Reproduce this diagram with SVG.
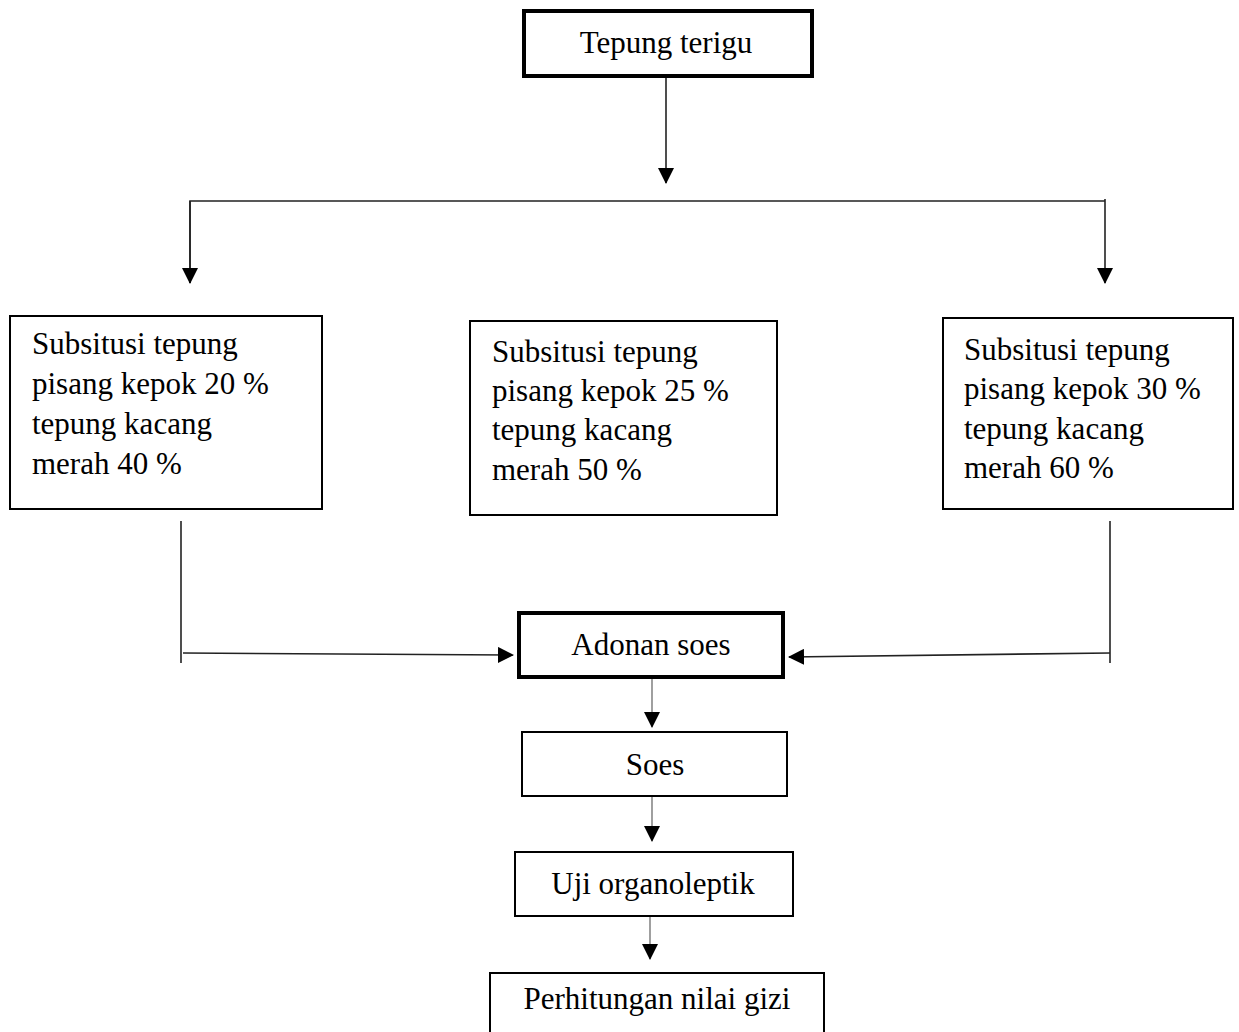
<svg xmlns="http://www.w3.org/2000/svg" width="1239" height="1032" viewBox="0 0 1239 1032">
<defs>
<style>
text{font-family:"Liberation Serif","Times New Roman",serif;font-size:31px;fill:#000}
.c{text-anchor:middle}
.box{fill:#fff;stroke:#000;stroke-width:2}
.thick{fill:#fff;stroke:#000;stroke-width:4}
.ln{fill:none;stroke:#222;stroke-width:1.6}
.gl{fill:none;stroke:#888;stroke-width:1.6}
</style>
<marker id="ah" markerUnits="userSpaceOnUse" markerWidth="16" markerHeight="16" viewBox="0 0 16 16" refX="15" refY="8" orient="auto">
<path d="M0,0 L16,8 L0,16 Z" fill="#000"/>
</marker>
</defs>
<g id="connectors">
<line class="ln" x1="666" y1="76" x2="666" y2="183" marker-end="url(#ah)"/>
<polyline class="ln" points="190,283 190,201 1105,201"/>
<line class="ln" x1="190" y1="201" x2="190" y2="283" marker-end="url(#ah)"/>
<line class="ln" x1="1105" y1="199" x2="1105" y2="283" marker-end="url(#ah)"/>
<line class="ln" x1="181" y1="521" x2="181" y2="663"/>
<line class="ln" x1="183" y1="653" x2="513" y2="655" marker-end="url(#ah)"/>
<line class="ln" x1="1110" y1="521" x2="1110" y2="663"/>
<line class="ln" x1="1110" y1="653" x2="789" y2="657" marker-end="url(#ah)"/>
<line class="gl" x1="652" y1="677" x2="652" y2="727" marker-end="url(#ah)"/>
<line class="gl" x1="652" y1="796" x2="652" y2="841" marker-end="url(#ah)"/>
<line class="gl" x1="650" y1="916" x2="650" y2="959" marker-end="url(#ah)"/>
</g>
<g id="n-tepung-terigu">
<rect class="thick" x="524" y="11" width="288" height="65"/>
<text class="c" x="666" y="53">Tepung terigu</text>
</g>
<g id="n-sub-20">
<rect class="box" x="10" y="316" width="312" height="193"/>
<text x="32"><tspan x="32" y="354">Subsitusi tepung</tspan><tspan x="32" y="394">pisang kepok 20 %</tspan><tspan x="32" y="434">tepung kacang</tspan><tspan x="32" y="474">merah 40 %</tspan></text>
</g>
<g id="n-sub-25">
<rect class="box" x="470" y="321" width="307" height="194"/>
<text x="492"><tspan x="492" y="362">Subsitusi tepung</tspan><tspan x="492" y="401">pisang kepok 25 %</tspan><tspan x="492" y="440">tepung kacang</tspan><tspan x="492" y="480">merah 50 %</tspan></text>
</g>
<g id="n-sub-30">
<rect class="box" x="943" y="318" width="290" height="191"/>
<text x="964"><tspan x="964" y="360">Subsitusi tepung</tspan><tspan x="964" y="399">pisang kepok 30 %</tspan><tspan x="964" y="439">tepung kacang</tspan><tspan x="964" y="478">merah 60 %</tspan></text>
</g>
<g id="n-adonan-soes">
<rect class="thick" x="519" y="613" width="264" height="64"/>
<text class="c" x="651" y="655">Adonan soes</text>
</g>
<g id="n-soes">
<rect class="box" x="522" y="732" width="265" height="64"/>
<text class="c" x="655" y="775">Soes</text>
</g>
<g id="n-uji">
<rect class="box" x="515" y="852" width="278" height="64"/>
<text class="c" x="653" y="894">Uji organoleptik</text>
</g>
<g id="n-perhitungan">
<rect class="box" x="490" y="973" width="334" height="70"/>
<text class="c" x="657" y="1009">Perhitungan nilai gizi</text>
</g>
</svg>
